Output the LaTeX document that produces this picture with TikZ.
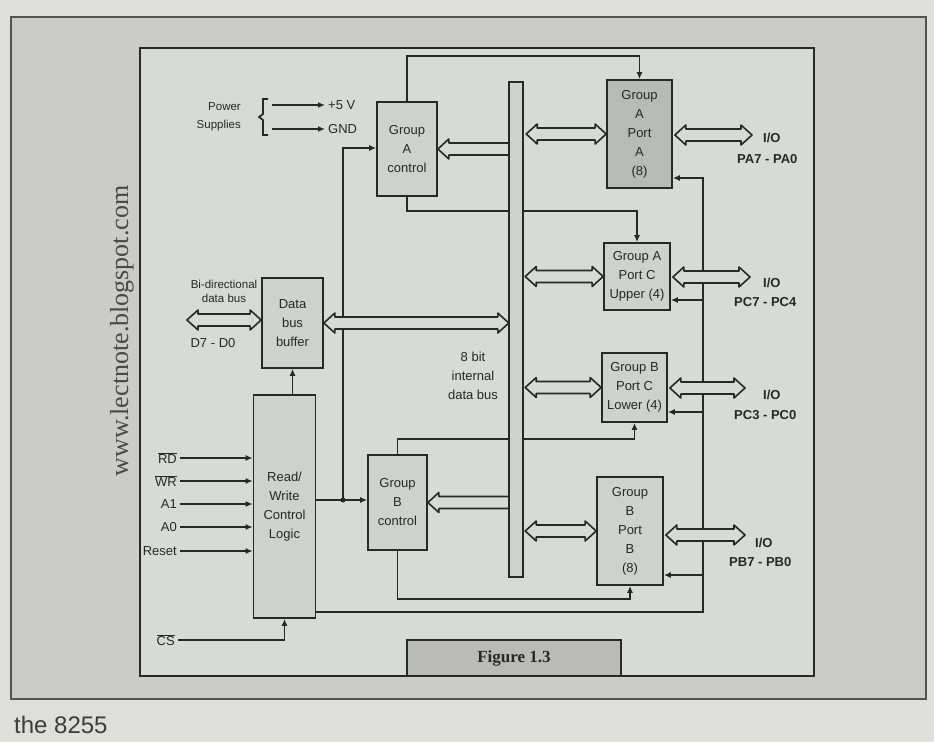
\documentclass[tikz,border=0pt]{standalone}
\usepackage{fontspec}
\setmainfont{Liberation Sans}
\newfontfamily\wmfont{Liberation Serif}
\usetikzlibrary{arrows.meta,calc}
\definecolor{pagebg}{RGB}{222,222,218}
\definecolor{framebg}{RGB}{203,204,200}
\definecolor{innerbg}{RGB}{216,218,213}
\definecolor{boxbg}{RGB}{207,209,204}
\definecolor{portadark}{RGB}{184,186,181}
\definecolor{ink}{RGB}{40,40,40}
\definecolor{capbg}{RGB}{186,187,183}
\newcommand\fatboth[2]{%
  \draw[fat] let \p1=#1, \p2=#2 in
  (\x1,\y1) -- (\x1+11pt,\y1+10pt) -- (\x1+11pt,\y1+6pt) -- (\x2-11pt,\y1+6pt)
  -- (\x2-11pt,\y1+10pt) -- (\x2,\y1) -- (\x2-11pt,\y1-10pt) -- (\x2-11pt,\y1-6pt)
  -- (\x1+11pt,\y1-6pt) -- (\x1+11pt,\y1-10pt) -- cycle;}
\newcommand\fatleft[2]{%
  \draw[fat] let \p1=#1, \p2=#2 in
  (\x1,\y1) -- (\x1+11pt,\y1+10pt) -- (\x1+11pt,\y1+6pt) -- (\x2,\y1+6pt)
  -- (\x2,\y1-6pt) -- (\x1+11pt,\y1-6pt) -- (\x1+11pt,\y1-10pt) -- cycle;}
\begin{document}
\begin{tikzpicture}[x=1pt,y=-1pt,
  blk/.style={draw=ink, line width=1.7pt, fill=boxbg, inner sep=0pt, align=center,
    font=\fontsize{13}{19}\selectfont, text=ink},
  lab/.style={inner sep=3pt, font=\fontsize{13}{19}\selectfont, text=ink},
  iolab/.style={inner sep=0pt, font=\bfseries\fontsize{13}{14}\selectfont, text=ink},
  conn/.style={draw=ink, line width=1.7pt},
  arr/.style={-{Latex[length=7pt,width=6pt]}},
  fat/.style={draw=ink, line width=1.6pt, fill=innerbg, line join=round},
  busbar/.style={draw=ink, line width=1.7pt, fill=boxbg}
  ]
\useasboundingbox (0,0) rectangle (934,742);
\fill[pagebg] (0,0) rectangle (934,742);
\draw[ink!80, line width=1.5pt, fill=framebg] (11,17) rectangle (926,699);
\draw[ink, line width=1.7pt, fill=innerbg] (140,48) rectangle (814,676);

% watermark and page text
\node[rotate=90, inner sep=0pt, font=\wmfont\fontsize{26}{26}\selectfont, text=ink!85] (wm) at (122,331) {www.lectnote.blogspot.com};
\node[anchor=base west, inner sep=0pt, font=\fontsize{24}{24}\selectfont, text=ink!90] (tail) at (14,733) {the 8255};

% blocks
\node[blk, minimum width=60pt, minimum height=94pt] (gac) at (407,149) {Group\\A\\control};
\node[blk, fill=portadark, minimum width=65pt, minimum height=108pt] (pa) at (639.5,134) {Group\\A\\Port\\A\\(8)};
\node[blk, minimum width=66pt, minimum height=67pt] (pcu) at (637,276.5) {Group A\\Port C\\Upper (4)};
\node[blk, minimum width=65pt, minimum height=69pt] (pcl) at (634.5,387.5) {Group B\\Port C\\Lower (4)};
\node[blk, minimum width=66pt, minimum height=108pt] (pb) at (630,531) {Group\\B\\Port\\B\\(8)};
\node[blk, minimum width=59pt, minimum height=95pt] (gbc) at (397.5,502.5) {Group\\B\\control};
\node[blk, minimum width=61pt, minimum height=90pt] (dbb) at (292.5,323) {Data\\bus\\buffer};
\node[blk, minimum width=62pt, minimum height=223pt] (rw) at (284.5,506.5) {Read/\\Write\\Control\\Logic};
\path node[minimum width=14pt, minimum height=495pt, inner sep=0pt] (bus) at (516,329.5) {};

\node[lab, align=center] (ibus) at (473,376) {8 bit\\internal\\data bus};

% power supplies
\node[lab, align=right, anchor=east, font=\fontsize{11.5}{18}\selectfont] (ps) at (244,117) {Power\\Supplies};
\draw[conn] (268,99) -- (263,99) -- (263,114) -- (259,117) -- (263,120) -- (263,135) -- (268,135);
\coordinate (p5s) at (272,105);
\coordinate (pgs) at (272,129);
\node[lab, anchor=west] (p5) at (325,105) {+5 V};
\node[lab, anchor=west] (pg) at (325,129) {GND};
\draw[conn,arr] (p5s) -- (p5.west);
\draw[conn,arr] (pgs) -- (pg.west);

% data bus labels
\node[lab, align=center, font=\fontsize{11.5}{14}\selectfont] (bidir) at (224,291) {Bi-directional\\data bus};
\node[lab] (d70) at (213,343) {D7 - D0};
\coordinate (dl) at (187,320);

% inputs
\node[lab, anchor=east] (rd) at (180,458) {$\overline{\hbox{RD}}$};
\node[lab, anchor=east] (wr) at (180,481) {$\overline{\hbox{WR}}$};
\node[lab, anchor=east] (a1) at (180,504) {A1};
\node[lab, anchor=east] (a0) at (180,527) {A0};
\node[lab, anchor=east] (rst) at (180,551) {Reset};
\node[lab, anchor=east] (cs) at (178,640) {$\overline{\hbox{CS}}$};
\foreach \n in {rd,wr,a1,a0,rst}{\draw[conn,arr] (\n.east) -- (\n.east -| rw.west);}
\draw[conn,arr] (cs.east) -| (rw.south);

% control lines
\draw[conn,arr] (dbb.south |- rw.north) -- (dbb.south);
\coordinate (jn) at (343,500);
\coordinate (ja) at (343,148);
\draw[conn,arr] (jn -| rw.east) -- (jn -| gbc.west);
\draw[conn,arr] (jn) -- (ja) -- (ja -| gac.west);
\fill[ink] (jn) circle (2.5pt);

\draw[conn,arr] (gac.north) |- ([yshift=23pt]pa.north) -- (pa.north);
\draw[conn,arr] (gac.south) |- ([yshift=31pt]pcu.north) -- (pcu.north);
\draw[conn,arr] (gbc.north) |- ([yshift=-16pt]pcl.south) -- (pcl.south);
\draw[conn,arr] (gbc.south) |- ([yshift=-13pt]pb.south) -- (pb.south);

\coordinate (rwb) at (315.5,612);
\coordinate (rvA) at (703,178);
\coordinate (rvC) at (703,300);
\coordinate (rvL) at (703,412);
\coordinate (rvB) at (703,575);
\draw[conn,arr] (rwb) -| (rvA) -- (rvA -| pa.east);
\draw[conn,arr] (rvC) -- (rvC -| pcu.east);
\draw[conn,arr] (rvL) -- (rvL -| pcl.east);
\draw[conn,arr] (rvB) -- (rvB -| pb.east);

% internal bus
\draw[busbar] (bus.north west) rectangle (bus.south east);

% fat bus arrows
\fatleft{(gac.east)}{(bus.west |- gac.east)}
\fatleft{(gbc.east)}{(bus.west |- gbc.east)}
\fatboth{(dl)}{(dl -| dbb.west)}
\fatboth{(dbb.east)}{(bus.west |- dbb.east)}
\fatboth{([xshift=3pt]bus.east |- pa.west)}{(pa.west)}
\fatboth{([xshift=2pt]bus.east |- pcu.west)}{(pcu.west)}
\fatboth{([xshift=2pt]bus.east |- pcl.west)}{(pcl.west)}
\fatboth{([xshift=2pt]bus.east |- pb.west)}{(pb.west)}

% I/O arrows
\coordinate (ioA) at (752,135);
\coordinate (ioC) at (750,277);
\coordinate (ioL) at (745,388);
\coordinate (ioB) at (745,535);
\fatboth{([xshift=2pt]pa.east |- ioA)}{(ioA)}
\fatboth{([xshift=2pt]pcu.east |- ioC)}{(ioC)}
\fatboth{([xshift=2pt]pcl.east |- ioL)}{(ioL)}
\fatboth{([xshift=2pt]pb.east |- ioB)}{(ioB)}

\node[iolab, anchor=west] (ioa1) at (763,138) {I/O};
\node[iolab, anchor=west] (ioa2) at (737,159) {PA7 - PA0};
\node[iolab, anchor=west] (ioc1) at (763,283) {I/O};
\node[iolab, anchor=west] (ioc2) at (734,302) {PC7 - PC4};
\node[iolab, anchor=west] (iol1) at (763,395) {I/O};
\node[iolab, anchor=west] (iol2) at (734,415) {PC3 - PC0};
\node[iolab, anchor=west] (iob1) at (755,543) {I/O};
\node[iolab, anchor=west] (iob2) at (729,562) {PB7 - PB0};

% caption
\node[draw=ink, line width=1.7pt, fill=capbg, minimum width=214pt, minimum height=36pt, inner sep=0pt,
  font=\wmfont\bfseries\fontsize{17}{17}\selectfont, text=ink] (cap) at (514,658) {Figure 1.3};
\end{tikzpicture}
\end{document}
